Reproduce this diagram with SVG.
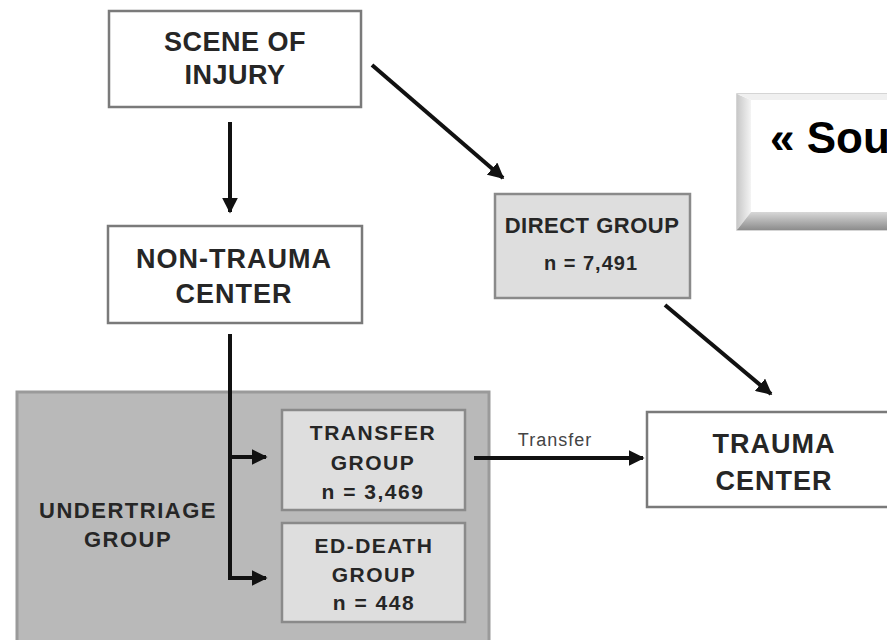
<svg xmlns="http://www.w3.org/2000/svg" width="887" height="640" viewBox="0 0 887 640">
<defs>
<style>
.t{font-family:"Liberation Sans",Arial,sans-serif;font-weight:bold;fill:#262626;text-anchor:middle}
.w{fill:#fff;stroke:#7a7a7a;stroke-width:2.5}
.g{fill:#dedede;stroke:#8a8a8a;stroke-width:2.5}
.c{stroke:#111;stroke-width:4;fill:none}
</style>
<marker id="ah" viewBox="0 0 10 10" refX="9" refY="5" markerWidth="4" markerHeight="4" orient="auto" markerUnits="strokeWidth">
<path d="M0,0 L10,5 L0,10 z" fill="#111"/>
</marker>
<linearGradient id="bl" x1="0" y1="0" x2="1" y2="0"><stop offset="0" stop-color="#c8c8c8"/><stop offset="1" stop-color="#f4f4f4"/></linearGradient>
<linearGradient id="bb" x1="0" y1="0" x2="0" y2="1"><stop offset="0" stop-color="#d8d8d8"/><stop offset="1" stop-color="#8c8c8c"/></linearGradient>
</defs>
<rect width="887" height="640" fill="#fff"/>

<g id="undertriage">
<rect x="17" y="392" width="472" height="260" fill="#b9b9b9" stroke="#9a9a9a" stroke-width="3"/>
<text class="t" font-size="22" letter-spacing="1.5" x="128" y="518">UNDERTRIAGE</text>
<text class="t" font-size="22" letter-spacing="1.5" x="128" y="547">GROUP</text>
</g>

<g id="scene">
<rect class="w" x="109" y="11" width="252" height="96"/>
<text class="t" font-size="27" letter-spacing="0.5" x="235" y="51">SCENE OF</text>
<text class="t" font-size="27" letter-spacing="0.5" x="235" y="84">INJURY</text>
</g>

<g id="nontrauma">
<rect class="w" x="108" y="226" width="254" height="97"/>
<text class="t" font-size="27" letter-spacing="1" x="234" y="268">NON-TRAUMA</text>
<text class="t" font-size="27" letter-spacing="1" x="234" y="303">CENTER</text>
</g>

<g id="direct">
<rect class="g" x="495" y="194" width="195" height="104"/>
<text class="t" font-size="22" letter-spacing="0.5" x="592" y="233">DIRECT GROUP</text>
<text class="t" font-size="20" letter-spacing="1" x="591" y="270">n = 7,491</text>
</g>

<g id="transfergroup">
<rect class="g" x="282" y="410" width="183" height="100"/>
<text class="t" font-size="21" letter-spacing="1.5" x="373" y="440">TRANSFER</text>
<text class="t" font-size="21" letter-spacing="1.5" x="373" y="470">GROUP</text>
<text class="t" font-size="21" letter-spacing="1.5" x="373" y="499">n = 3,469</text>
</g>

<g id="eddeath">
<rect class="g" x="282" y="523" width="183" height="99"/>
<text class="t" font-size="21" letter-spacing="1.5" x="374" y="553">ED-DEATH</text>
<text class="t" font-size="21" letter-spacing="1.5" x="374" y="582">GROUP</text>
<text class="t" font-size="21" letter-spacing="1.5" x="374" y="610">n = 448</text>
</g>

<g id="trauma">
<rect class="w" x="647" y="412" width="250" height="95"/>
<text class="t" font-size="27" letter-spacing="1" x="774" y="453">TRAUMA</text>
<text class="t" font-size="27" letter-spacing="1" x="774" y="490">CENTER</text>
</g>

<g id="callout">
<rect x="737" y="94" width="160" height="136" fill="#fff" stroke="#c8c8c8" stroke-width="1.5"/>
<polygon points="737,94 751,100 751,212 737,230" fill="url(#bl)"/>
<polygon points="737,94 897,94 897,100 751,100" fill="#f0f0f0"/>
<polygon points="737,230 751,212 897,212 897,230" fill="url(#bb)"/>
<text font-family="'Liberation Sans',Arial,sans-serif" font-weight="bold" font-size="44" fill="#000" x="770" y="153">« Sou</text>
</g>

<g id="connectors">
<line class="c" x1="230" y1="122" x2="230" y2="212" marker-end="url(#ah)"/>
<line class="c" x1="372" y1="65" x2="503" y2="178" marker-end="url(#ah)"/>
<line class="c" x1="665" y1="305" x2="771" y2="394" marker-end="url(#ah)"/>
<polyline class="c" points="230,334 230,578 266,578" marker-end="url(#ah)"/>
<line class="c" x1="230" y1="457" x2="266" y2="457" marker-end="url(#ah)"/>
<line class="c" x1="474" y1="458" x2="643" y2="458" marker-end="url(#ah)"/>
<text font-family="'Liberation Sans',Arial,sans-serif" font-size="18" letter-spacing="1" fill="#444" x="555" y="446" text-anchor="middle">Transfer</text>
</g>
</svg>
